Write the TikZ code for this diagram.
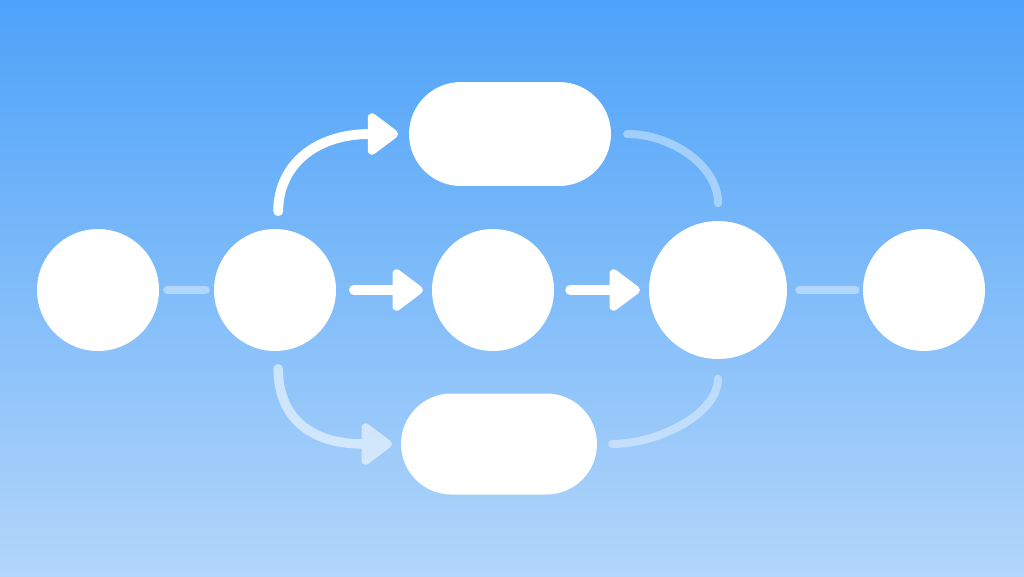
\documentclass[tikz,border=0pt]{standalone}
\usetikzlibrary{arrows.meta}
\definecolor{bgtop}{HTML}{4DA2F9}
\definecolor{bgbot}{HTML}{B3D6FA}
\begin{document}
\begin{tikzpicture}[x=0.02cm,y=-0.02cm,
  circ/.style={circle,fill=white,draw=none,inner sep=0pt,minimum size=2.44cm},
  bigcirc/.style={circle,fill=white,draw=none,inner sep=0pt,minimum size=2.76cm},
  pill/.style={rectangle,fill=white,draw=none,inner sep=0pt},
  solidarrow/.style={draw=white,line width=5.6pt,line cap=round,
     -{Triangle[length=19pt,width=27pt,round]}},
  fadedline/.style={draw=white,draw opacity=0.4,line width=4.6pt,line cap=round},
  fadedarrow/.style={draw=white,line width=5.4pt,line cap=round,
     -{Triangle[length=19pt,width=27pt,round]}}
]
\shade[top color=bgtop,bottom color=bgbot] (0,0) rectangle (1024,576);
\useasboundingbox (0,0) rectangle (1024,576);

\node[circ] (c1) at (98,290) {};
\node[circ] (c2) at (275,290) {};
\node[circ] (c3) at (493,290) {};
\node[bigcirc] (c4) at (718,290) {};
\node[circ] (c5) at (924,290) {};
\node[pill,minimum width=4.04cm,minimum height=2.08cm,rounded corners=1.04cm] (r1) at (510,134) {};
\node[pill,minimum width=3.92cm,minimum height=2.02cm,rounded corners=1.01cm] (r2) at (499,444) {};

\draw[fadedline,shorten <=4.5pt,shorten >=4.5pt] (c1) -- (c2);
\draw[solidarrow,shorten <=10pt,shorten >=5pt] (c2) -- (c3);
\draw[solidarrow,shorten <=9pt,shorten >=5pt] (c3) -- (c4);
\draw[fadedline,shorten <=6.8pt,shorten >=4pt] (c4) -- (c5);

\draw[solidarrow,shorten <=10pt,shorten >=6pt] (c2.87) .. controls +(0,-62) and +(-95,0) .. (r1.west);
\begin{scope}[transparency group,opacity=0.55]
\draw[fadedarrow,shorten <=10pt,shorten >=5pt] (c2.273) .. controls +(0,62) and +(-95,0) .. (r2.west);
\end{scope}
\draw[fadedline,shorten <=9pt,shorten >=10pt] (r1.east) .. controls +(60,0) and +(0,-55) .. (c4.north);
\draw[fadedline,shorten <=8.5pt,shorten >=11pt] (r2.east) .. controls +(60,0) and +(0,55) .. (c4.south);
\end{tikzpicture}
\end{document}
